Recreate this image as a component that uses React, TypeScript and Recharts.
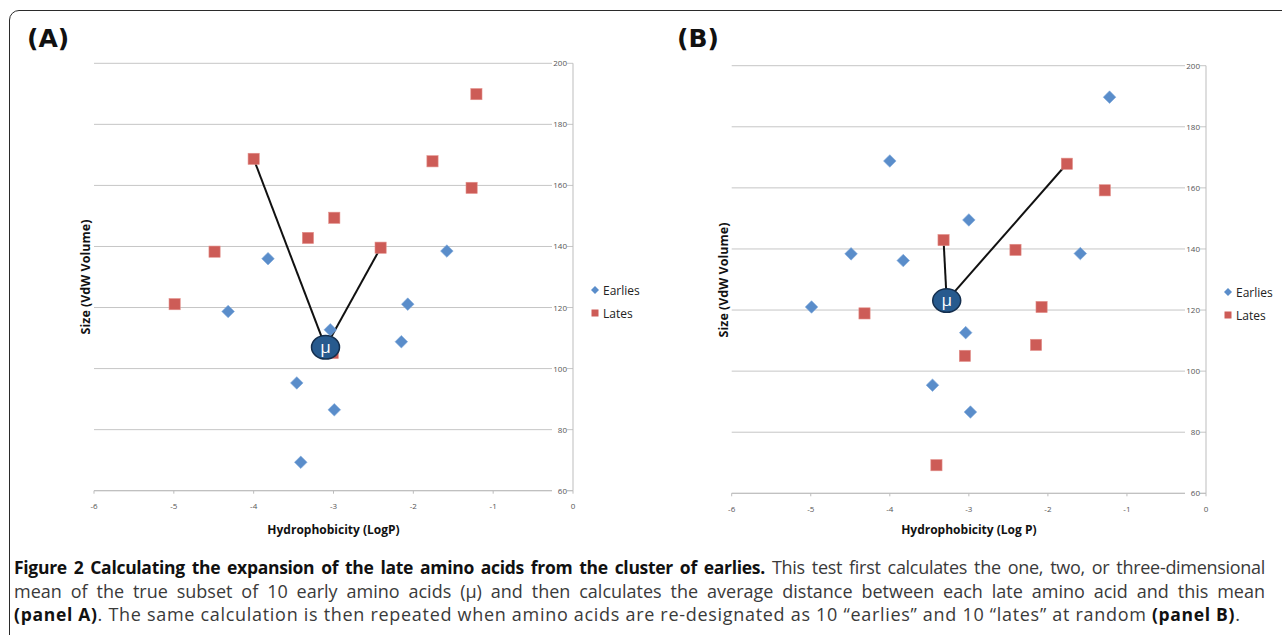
import React from 'react'
import { ScatterChart, Scatter, XAxis, YAxis, CartesianGrid, Legend } from 'recharts'

const xTicks = [-6, -5, -4, -3, -2, -1, 0]
const yTicks = [60, 80, 100, 120, 140, 160, 180, 200]

// panel A: the true early / late amino acids
const earliesA = [
  { x: -3.82, y: 136.0 },
  { x: -1.58, y: 138.5 },
  { x: -4.32, y: 118.7 },
  { x: -2.07, y: 121.1 },
  { x: -3.04, y: 112.7 },
  { x: -2.15, y: 108.8 },
  { x: -3.46, y: 95.3 },
  { x: -2.99, y: 86.5 },
  { x: -3.41, y: 69.3 },
]
const latesA = [
  { x: -4.49, y: 138.3 },
  { x: -4.0, y: 168.7 },
  { x: -3.32, y: 142.8 },
  { x: -2.99, y: 149.4 },
  { x: -2.41, y: 139.6 },
  { x: -1.76, y: 167.9 },
  { x: -1.27, y: 159.2 },
  { x: -1.21, y: 189.9 },
  { x: -4.99, y: 121.1 },
  { x: -3.01, y: 105.1 },
]
const muA = { x: -3.1, y: 107.0 }
const linkedA = [latesA[1], latesA[4]]

// panel B: random re-designation
const earliesB = [
  { x: -1.22, y: 189.7 },
  { x: -4.0, y: 168.8 },
  { x: -3.0, y: 149.5 },
  { x: -4.49, y: 138.4 },
  { x: -3.83, y: 136.2 },
  { x: -1.59, y: 138.5 },
  { x: -4.99, y: 121.0 },
  { x: -3.04, y: 112.6 },
  { x: -3.46, y: 95.4 },
  { x: -2.98, y: 86.6 },
]
const latesB = [
  { x: -1.76, y: 167.9 },
  { x: -1.28, y: 159.2 },
  { x: -3.32, y: 142.9 },
  { x: -2.41, y: 139.7 },
  { x: -2.08, y: 121.0 },
  { x: -4.32, y: 118.9 },
  { x: -2.15, y: 108.6 },
  { x: -3.05, y: 105.0 },
  { x: -3.41, y: 69.2 },
]
const muB = { x: -3.28, y: 123.1 }
const linkedB = [latesB[2], latesB[0]]

const BLUE = '#5a8dca'
const RED = '#cd5c57'
const MU = '#275a8e'
const GRID = '#c6c6c6'
const FONT = '"Open Sans", sans-serif'

const Diamond = (p: any) => (
  <polygon
    points={`${p.cx},${p.cy - 6.3} ${p.cx + 6.3},${p.cy} ${p.cx},${p.cy + 6.3} ${p.cx - 6.3},${p.cy}`}
    fill={BLUE}
    stroke="#80aadb"
    strokeWidth={0.6}
  />
)

const Square = (p: any) => (
  <rect x={p.cx - 5.6} y={p.cy - 5.6} width={11.2} height={11.2} fill={RED} stroke="#e3908b" strokeWidth={0.6} />
)

const MuMark = (p: any) => (
  <g>
    <ellipse cx={p.cx} cy={p.cy} rx={14} ry={11.8} fill={MU} stroke="#152f4e" strokeWidth={1.5} />
    <text x={p.cx} y={p.cy} dy={5.5} textAnchor="middle" fill="#fff" fontSize={17} fontFamily={FONT}>
      μ
    </text>
  </g>
)

const noDot = () => <g />

const YTick = (p: any) => (
  <g>
    <rect x={p.x - 21} y={p.y - 5} width={15} height={10} fill="#fff" />
    <text x={p.x - 6} y={p.y} dy={3} textAnchor="end" fontSize={8} fill="#555" fontFamily={FONT}>
      {p.payload.value}
    </text>
  </g>
)

const LegendBox = () => (
  <div style={{ fontFamily: FONT, fontSize: 12, color: '#222', lineHeight: '23px' }}>
    <div style={{ display: 'flex', alignItems: 'center' }}>
      <svg width={10} height={10}>
        <polygon points="5,1 9,5 5,9 1,5" fill={BLUE} />
      </svg>
      <span style={{ marginLeft: 3 }}>Earlies</span>
    </div>
    <div style={{ display: 'flex', alignItems: 'center' }}>
      <svg width={10} height={10}>
        <rect x={1.5} y={1.5} width={7} height={7} fill={RED} />
      </svg>
      <span style={{ marginLeft: 3 }}>Lates</span>
    </div>
  </div>
)

type PanelProps = {
  width: number
  margin: { top: number; right: number; bottom: number; left: number }
  xHeight: number
  xTitle: string
  earlies: { x: number; y: number }[]
  lates: { x: number; y: number }[]
  mu: { x: number; y: number }
  linked: { x: number; y: number }[]
  legendPos: { left: number; top: number }
}

function Panel(props: PanelProps) {
  const { width, margin, xHeight, xTitle, earlies, lates, mu, linked, legendPos } = props
  return (
    <ScatterChart width={width} height={500} margin={margin}>
      <CartesianGrid vertical={false} stroke={GRID} />
      <XAxis
        type="number"
        dataKey="x"
        domain={[-6, 0]}
        ticks={xTicks}
        allowDataOverflow
        height={xHeight}
        axisLine={{ stroke: '#bdbdbd' }}
        tickLine={{ stroke: '#bdbdbd' }}
        tickSize={3}
        tickMargin={10}
        tick={{ fontSize: 8, fill: '#555', fontFamily: FONT }}
        label={{
          value: xTitle,
          position: 'insideBottom',
          offset: 0,
          fill: '#111',
          fontSize: 12,
          fontWeight: 700,
          fontFamily: FONT,
        }}
      />
      <YAxis
        type="number"
        dataKey="y"
        orientation="right"
        domain={[60, 200]}
        ticks={yTicks}
        allowDataOverflow
        width={1}
        axisLine={{ stroke: '#bdbdbd' }}
        tickLine={false}
        tickSize={0}
        tickMargin={0}
        tick={YTick}
      />
      <Legend
        layout="vertical"
        align="center"
        verticalAlign="middle"
        wrapperStyle={{ left: legendPos.left, top: legendPos.top, width: 60 }}
        content={() => <LegendBox />}
      />
      {linked.map((p, i) => (
        <Scatter
          key={'seg' + i}
          data={[p, mu]}
          line={{ stroke: '#111', strokeWidth: 2 }}
          shape={noDot}
          legendType="none"
          isAnimationActive={false}
        />
      ))}
      <Scatter name="Earlies" data={earlies} shape={Diamond} isAnimationActive={false} />
      <Scatter name="Lates" data={lates} shape={Square} isAnimationActive={false} />
      <Scatter data={[mu]} shape={MuMark} legendType="none" isAnimationActive={false} />
    </ScatterChart>
  )
}

const yTitle: React.CSSProperties = {
  position: 'absolute',
  transform: 'translate(-50%, -50%) rotate(-90deg)',
  whiteSpace: 'nowrap',
  fontFamily: FONT,
  fontWeight: 700,
  fontSize: 12.5,
  color: '#111',
}

const panelLabel: React.CSSProperties = {
  position: 'absolute',
  fontFamily: '"DejaVu Sans", sans-serif',
  fontWeight: 700,
  fontSize: 25,
  lineHeight: '30px',
  color: '#111',
}

const capLine: React.CSSProperties = {
  whiteSpace: 'nowrap',
  width: 1251,
  height: 23.5,
}

const capBold: React.CSSProperties = { color: '#111', fontSize: 17.5 }

export default function App() {
  return (
    <div
      style={{
        position: 'fixed',
        left: 0,
        top: 0,
        width: 1282,
        height: 635,
        overflow: 'hidden',
        background: '#fff',
        fontFamily: FONT,
      }}
    >
      <div
        style={{
          position: 'absolute',
          left: 9,
          top: 10,
          width: 1320,
          height: 700,
          border: '1.5px solid #2b2b2b',
          borderRadius: 10,
        }}
      />
      <div style={{ ...panelLabel, left: 27, top: 24 }}>(A)</div>
      <div style={{ ...panelLabel, left: 677, top: 24 }}>(B)</div>

      <div style={{ position: 'absolute', left: 60, top: 40 }}>
        <Panel
          width={600}
          margin={{ top: 23.3, right: 86, bottom: 6, left: 34 }}
          xHeight={43.3}
          xTitle="Hydrophobicity (LogP)"
          earlies={earliesA}
          lates={latesA}
          mu={muA}
          linked={linkedA}
          legendPos={{ left: 530, top: 238.5 }}
        />
      </div>
      <div style={{ position: 'absolute', left: 700, top: 40 }}>
        <Panel
          width={582}
          margin={{ top: 25.7, right: 75, bottom: 6, left: 31.7 }}
          xHeight={40.7}
          xTitle="Hydrophobicity (Log P)"
          earlies={earliesB}
          lates={latesB}
          mu={muB}
          linked={linkedB}
          legendPos={{ left: 523, top: 240.5 }}
        />
      </div>

      <div style={{ ...yTitle, left: 85, top: 277 }}>Size (VdW Volume)</div>
      <div style={{ ...yTitle, left: 723, top: 280 }}>Size (VdW Volume)</div>

      <div
        style={{
          position: 'absolute',
          left: 14,
          top: 556,
          fontSize: 18,
          lineHeight: '23.5px',
          color: '#3a3a3a',
        }}
      >
        <div style={{ ...capLine, letterSpacing: -0.3, textAlign: 'justify', textAlignLast: 'justify' }}>
          <b style={capBold}>
            Figure 2 Calculating the expansion of the late amino acids from the cluster of earlies.
          </b>{' '}
          This test first calculates the one, two, or three-dimensional
        </div>
        <div style={{ ...capLine, textAlign: 'justify', textAlignLast: 'justify' }}>
          mean of the true subset of 10 early amino acids (µ) and then calculates the average distance between
          each late amino acid and this mean
        </div>
        <div style={{ ...capLine, letterSpacing: 0.7 }}>
          <b style={capBold}>(panel A)</b>. The same calculation is then repeated when amino acids are
          re-designated as 10 “earlies” and 10 “lates” at random <b style={capBold}>(panel B)</b>.
        </div>
      </div>
    </div>
  )
}
